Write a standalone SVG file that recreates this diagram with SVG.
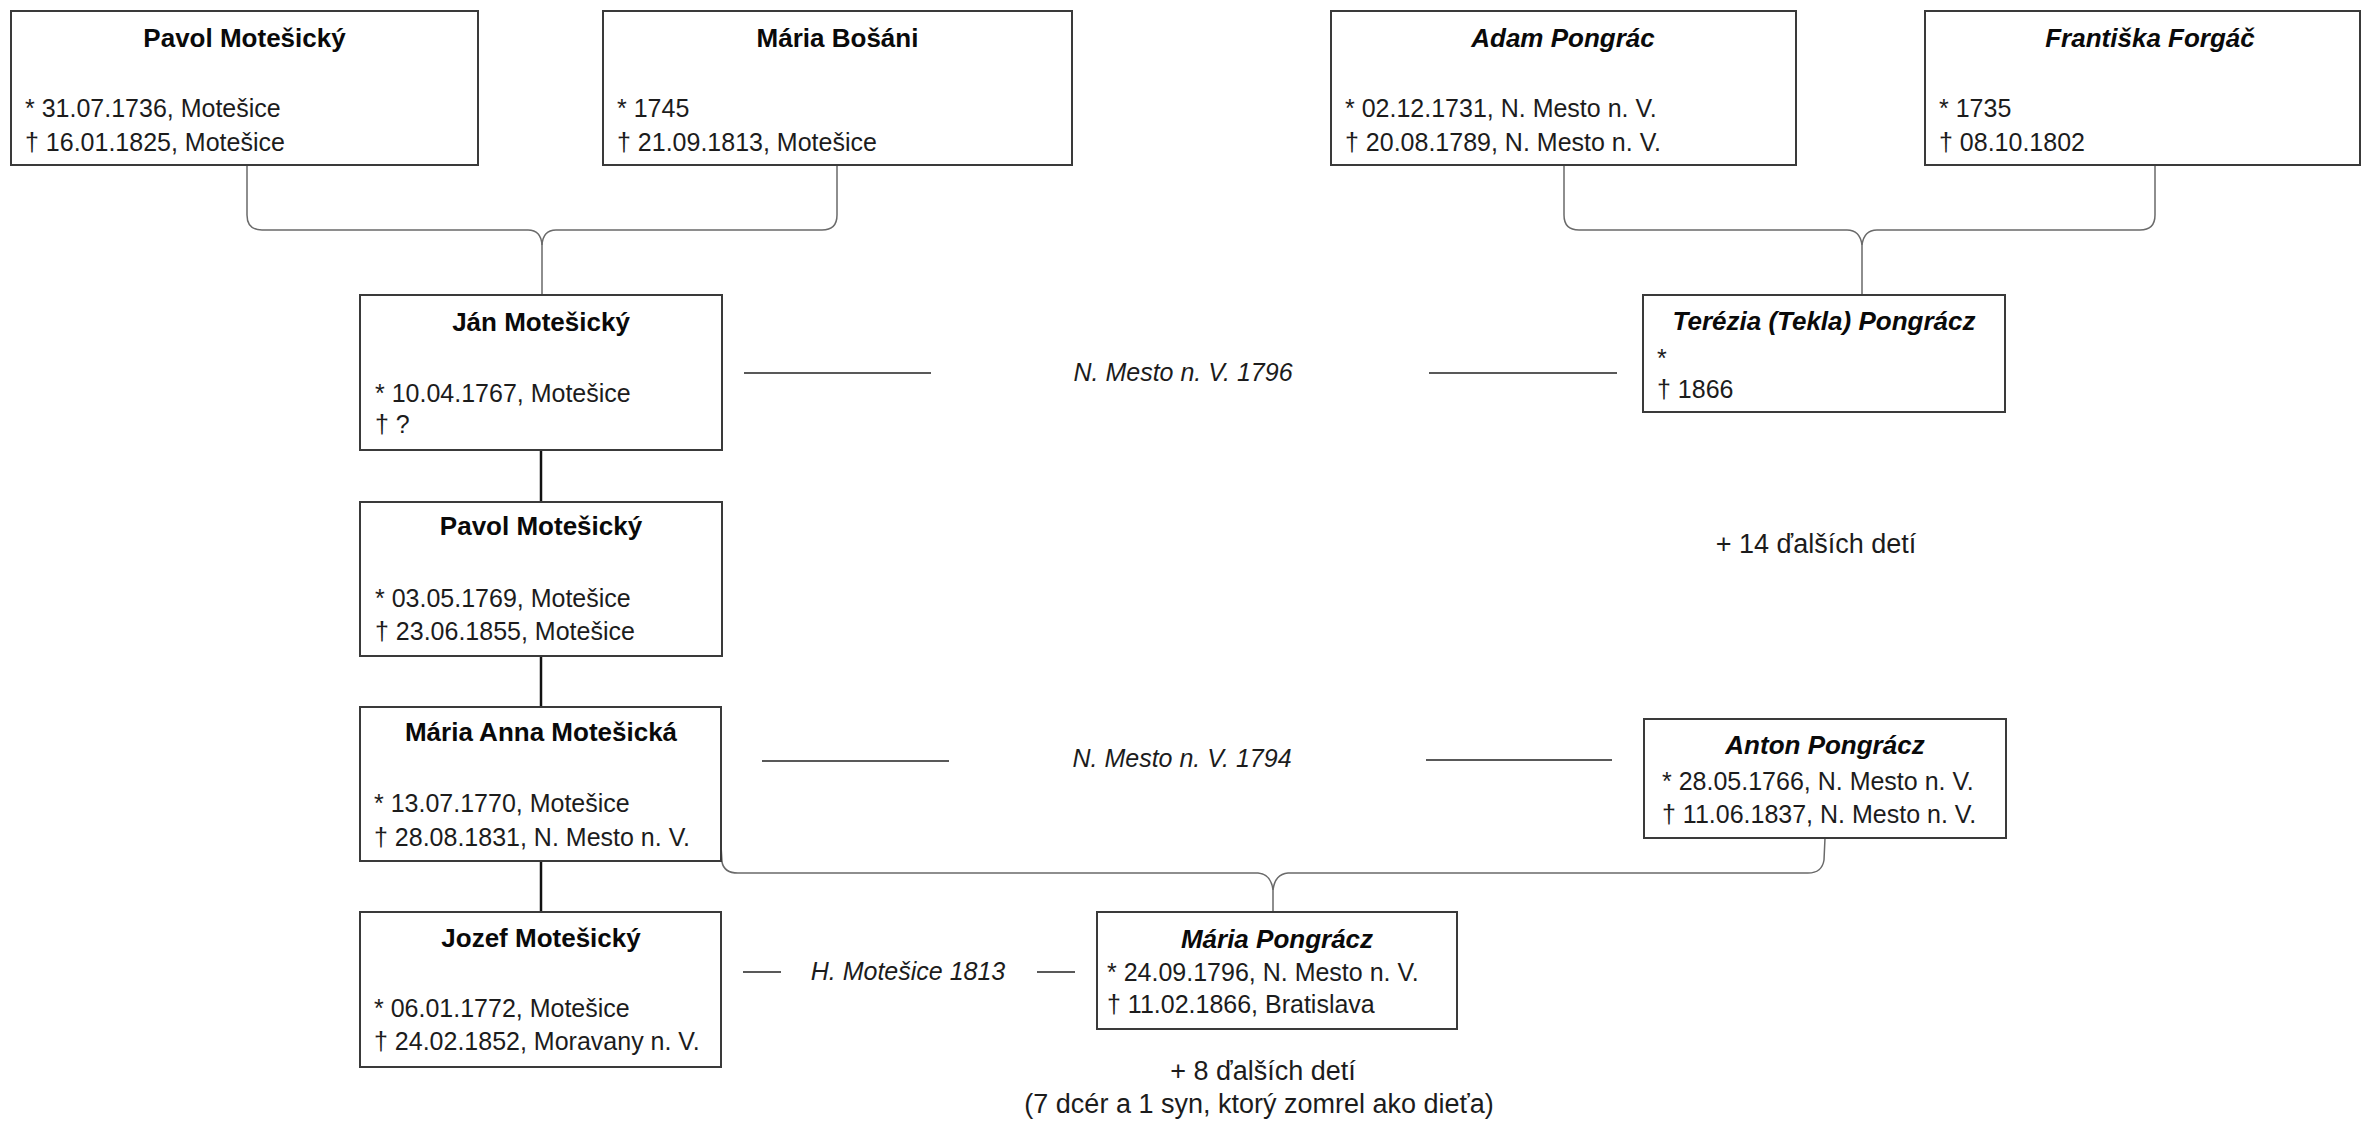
<svg xmlns="http://www.w3.org/2000/svg" width="2377" height="1123" viewBox="0 0 2377 1123">
<style>
.bg{fill:#ffffff}
.box{fill:#ffffff;stroke:#3a3a3a;stroke-width:2}
.t{font-family:'Liberation Sans',Arial,sans-serif;font-size:25px;fill:#1c1c1c}
.h{font-family:'Liberation Sans',Arial,sans-serif;font-size:26px;font-weight:bold;fill:#0a0a0a;text-anchor:middle}
.hi{font-style:italic}
.lab{font-family:'Liberation Sans',Arial,sans-serif;font-size:25px;font-style:italic;fill:#1c1c1c;text-anchor:middle}
.note{font-family:'Liberation Sans',Arial,sans-serif;font-size:27px;fill:#1c1c1c;text-anchor:middle}
.br{fill:none;stroke:#6a6a6a;stroke-width:1.5}
.pc{stroke:#111111;stroke-width:2.5}
.mar{stroke:#222222;stroke-width:1.6}
</style>
<rect class="bg" x="0" y="0" width="2377" height="1123"/>
<g id="connectors">
  <path class="br" d="M247 165 L247 215 Q247 230 262 230 L528 230 Q541 230 542 245 L542 295"/>
  <path class="br" d="M837 165 L837 215 Q837 230 822 230 L556 230 Q543 230 542 245"/>
  <path class="br" d="M1564 165 L1564 215 Q1564 230 1579 230 L1847 230 Q1860 230 1862 245 L1862 295"/>
  <path class="br" d="M2155 165 L2155 215 Q2155 230 2140 230 L1877 230 Q1864 230 1862 245"/>
  <path class="br" d="M721 845 L722 862 Q724 873 738 873 L1258 873 Q1271 874 1273 890 L1273 912"/>
  <path class="br" d="M1825 838 L1824 860 Q1822 873 1808 873 L1288 873 Q1275 874 1273 890"/>
  <line class="pc" x1="541" y1="450" x2="541" y2="502"/>
  <line class="pc" x1="541" y1="656" x2="541" y2="707"/>
  <line class="pc" x1="541" y1="861" x2="541" y2="912"/>
  <line class="mar" x1="744" y1="373" x2="931" y2="373"/>
  <line class="mar" x1="1429" y1="373" x2="1617" y2="373"/>
  <text class="lab" x="1183" y="381">N. Mesto n. V. 1796</text>
  <line class="mar" x1="762" y1="761" x2="949" y2="761"/>
  <line class="mar" x1="1426" y1="760" x2="1612" y2="760"/>
  <text class="lab" x="1182" y="767">N. Mesto n. V. 1794</text>
  <line class="mar" x1="743" y1="972" x2="781" y2="972"/>
  <line class="mar" x1="1037" y1="972" x2="1075" y2="972"/>
  <text class="lab" x="908" y="980">H. Motešice 1813</text>
</g>
<g id="pavol-motesicky-1736">
  <rect class="box" x="11" y="11" width="467" height="154"/>
  <text class="h" x="244.5" y="47">Pavol Motešický</text>
  <text class="t" x="25" y="117">* 31.07.1736, Motešice</text>
  <text class="t" x="25" y="151">† 16.01.1825, Motešice</text>
</g>
<g id="maria-bosani">
  <rect class="box" x="603" y="11" width="469" height="154"/>
  <text class="h" x="837.5" y="47">Mária Bošáni</text>
  <text class="t" x="617" y="117">* 1745</text>
  <text class="t" x="617" y="151">† 21.09.1813, Motešice</text>
</g>
<g id="adam-pongrac">
  <rect class="box" x="1331" y="11" width="465" height="154"/>
  <text class="h hi" x="1563" y="47">Adam Pongrác</text>
  <text class="t" x="1345" y="117">* 02.12.1731, N. Mesto n. V.</text>
  <text class="t" x="1345" y="151">† 20.08.1789, N. Mesto n. V.</text>
</g>
<g id="frantiska-forgac">
  <rect class="box" x="1925" y="11" width="435" height="154"/>
  <text class="h hi" x="2150" y="47">Františka Forgáč</text>
  <text class="t" x="1939" y="117">* 1735</text>
  <text class="t" x="1939" y="151">† 08.10.1802</text>
</g>
<g id="jan-motesicky">
  <rect class="box" x="360" y="295" width="362" height="155"/>
  <text class="h" x="541" y="331">Ján Motešický</text>
  <text class="t" x="375" y="402">* 10.04.1767, Motešice</text>
  <text class="t" x="375" y="433">† ?</text>
</g>
<g id="terezia-pongracz">
  <rect class="box" x="1643" y="295" width="362" height="117"/>
  <text class="h hi" x="1824" y="330">Terézia (Tekla) Pongrácz</text>
  <text class="t" x="1657" y="367">*</text>
  <text class="t" x="1657" y="398">† 1866</text>
</g>
<g id="pavol-motesicky-1769">
  <rect class="box" x="360" y="502" width="362" height="154"/>
  <text class="h" x="541" y="535">Pavol Motešický</text>
  <text class="t" x="375" y="607">* 03.05.1769, Motešice</text>
  <text class="t" x="375" y="640">† 23.06.1855, Motešice</text>
</g>
<g id="maria-anna-motesicka">
  <rect class="box" x="360" y="707" width="361" height="154"/>
  <text class="h" x="541" y="741">Mária Anna Motešická</text>
  <text class="t" x="374" y="812">* 13.07.1770, Motešice</text>
  <text class="t" x="374" y="846">† 28.08.1831, N. Mesto n. V.</text>
</g>
<g id="anton-pongracz">
  <rect class="box" x="1644" y="719" width="362" height="119"/>
  <text class="h hi" x="1825" y="754">Anton Pongrácz</text>
  <text class="t" x="1662" y="790">* 28.05.1766, N. Mesto n. V.</text>
  <text class="t" x="1662" y="823">† 11.06.1837, N. Mesto n. V.</text>
</g>
<g id="jozef-motesicky">
  <rect class="box" x="360" y="912" width="361" height="155"/>
  <text class="h" x="541" y="947">Jozef Motešický</text>
  <text class="t" x="374" y="1017">* 06.01.1772, Motešice</text>
  <text class="t" x="374" y="1050">† 24.02.1852, Moravany n. V.</text>
</g>
<g id="maria-pongracz">
  <rect class="box" x="1097" y="912" width="360" height="117"/>
  <text class="h hi" x="1277" y="948">Mária Pongrácz</text>
  <text class="t" x="1107" y="981">* 24.09.1796, N. Mesto n. V.</text>
  <text class="t" x="1107" y="1013">† 11.02.1866, Bratislava</text>
</g>
<g id="notes">
  <text class="note" x="1816" y="553">+ 14 ďalších detí</text>
  <text class="note" x="1263" y="1080">+ 8 ďalších detí</text>
  <text class="note" x="1259" y="1113">(7 dcér a 1 syn, ktorý zomrel ako dieťa)</text>
</g>
</svg>
